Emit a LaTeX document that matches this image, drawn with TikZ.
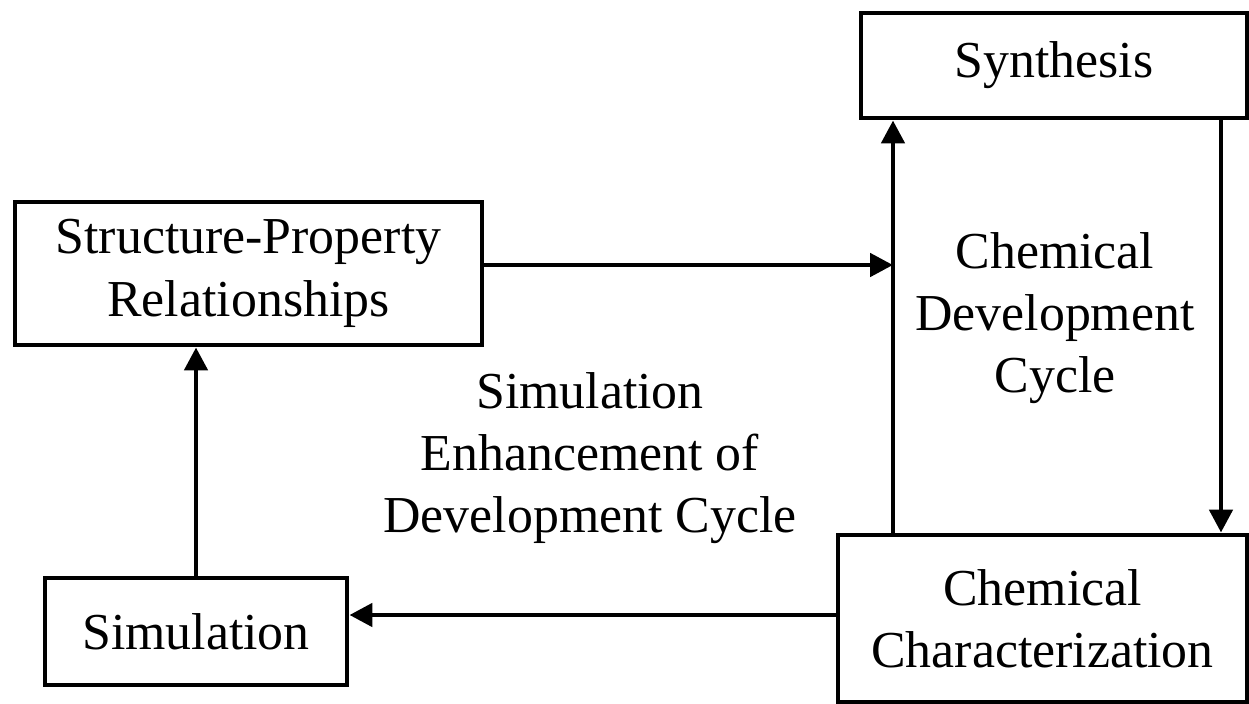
\documentclass[tikz,border=0pt]{standalone}
\usepackage{fontspec}
\setmainfont{Liberation Serif}
\usetikzlibrary{arrows.meta,positioning}

\tikzset{
  blk/.style={draw, line width=2.8pt, inner sep=0pt, align=center,
              font=\fontsize{29.5}{35.5}\selectfont},
  lbl/.style={align=center, font=\fontsize{29.5}{35.5}\selectfont},
}

\begin{document}
\begin{tikzpicture}[x=0.02cm,y=-0.02cm,line width=2.8pt,
    >={Triangle[length=0.46cm,width=0.46cm]}]

  \useasboundingbox (0,0) rectangle (1249,704);

  % boxes
  \node[blk, minimum width=386*0.02cm, minimum height=105*0.02cm] (syn) at (1054,65.5) {Synthesis};
  \node[blk, minimum width=467*0.02cm, minimum height=143*0.02cm] (sp) at (248.5,273.5) {Structure-Property\\Relationships};
  \node[blk, minimum width=302*0.02cm, minimum height=107*0.02cm] (sim) at (196,631.5) {Simulation};
  \node[blk, minimum width=409*0.02cm, minimum height=167*0.02cm] (cc) at (1042.5,618.5) {Chemical\\Characterization};

  % loose labels
  \node[lbl] (cdc) at (1055,318) {Chemical\\Development\\Cycle};
  \node[lbl] (sedc) at (590,458) {Simulation\\Enhancement of\\Development Cycle};

  % the two cycle lines
  \coordinate (upl) at (893,300);
  \coordinate (dnl) at (1221,300);

  \draw[->] (upl |- cc.north) -- (upl |- syn.south);
  \draw[->] (dnl |- syn.south) -- (dnl |- cc.north);

  \draw[->] (sp.east |- 0,265) -- (upl |- 0,265);
  \draw[->] (cc.west |- 0,615) -- (sim.east |- 0,615);
  \draw[->] (sim.north) -- (sim.north |- sp.south);

\end{tikzpicture}
\end{document}
